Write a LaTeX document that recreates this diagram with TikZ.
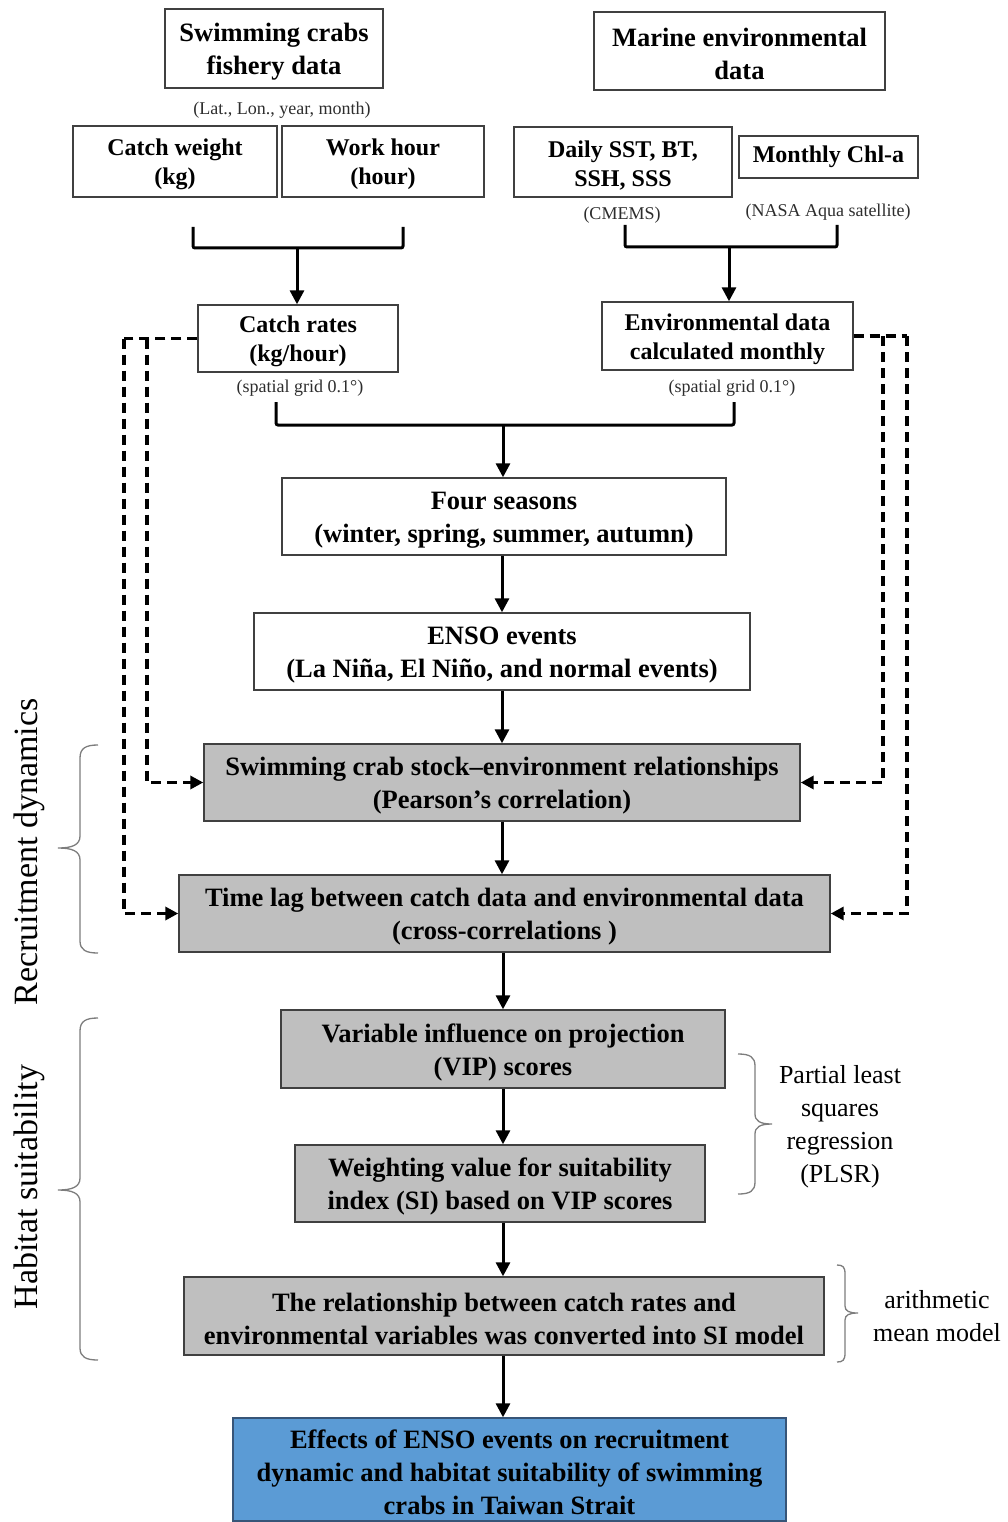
\documentclass[tikz,border=0pt]{standalone}
\usepackage{fontspec}
\setmainfont{Liberation Serif}
\usetikzlibrary{arrows.meta}
\definecolor{boxline}{RGB}{64,64,64}
\definecolor{grayfill}{RGB}{191,191,191}
\definecolor{bluefill}{RGB}{91,155,213}
\definecolor{blueline}{RGB}{55,85,120}
\definecolor{bracegray}{RGB}{125,125,125}
\definecolor{labelgray}{RGB}{45,45,45}
\newcommand{\lowstrut}{\rule{0pt}{0.95em}}
\begin{document}
\begin{tikzpicture}[x=1pt,y=-1pt,
  box/.style={draw=boxline,line width=1.4pt,inner sep=0pt,align=center,
    font=\bfseries\fontsize{26.5}{33}\selectfont},
  subbox/.style={box,font=\bfseries\fontsize{24}{29}\selectfont},
  graybox/.style={box,fill=grayfill},
  bluebox/.style={box,fill=bluefill,draw=blueline},
  small/.style={inner sep=0pt,align=center,text=labelgray,font=\fontsize{18}{22}\selectfont},
  side/.style={inner sep=0pt,align=center,font=\fontsize{26}{33}\selectfont},
  vlabel/.style={inner sep=0pt,rotate=90,font=\fontsize{34}{40}\selectfont},
  arr/.style={line width=3pt,-{Triangle[width=14pt,length=14pt]}},
  bracket/.style={line width=3pt,rounded corners=2pt},
  dsh/.style={line width=3.4pt,dash pattern=on 10pt off 6pt,-{Triangle[width=13pt,length=13pt]}},
  dshline/.style={line width=3.4pt,dash pattern=on 10pt off 6pt},
  brace/.style={draw=bracegray,line width=1.3pt}
]
\useasboundingbox (0,0) rectangle (1007,1522);

% top level
\node[box,minimum width=218pt,minimum height=79pt] (fish) at (274,48.5) {\lowstrut Swimming crabs\\fishery data};
\node[box,minimum width=291pt,minimum height=78pt] (marine) at (739.5,51) {\lowstrut Marine environmental\\data};
\node[small] (latlon) at (282,110) {(Lat., Lon., year, month)};

% second level
\node[subbox,minimum width=204pt,minimum height=71pt] (cw) at (175,161.5) {\lowstrut Catch weight\\(kg)};
\node[subbox,minimum width=202pt,minimum height=71pt] (wh) at (383,161.5) {\lowstrut Work hour\\(hour)};
\node[subbox,minimum width=218pt,minimum height=70pt] (sst) at (623,162) {\lowstrut Daily SST, BT,\\SSH, SSS};
\node[subbox,minimum width=179pt,minimum height=42pt] (chl) at (828.5,157) {Monthly Chl-a};
\node[small] (cmems) at (622,215) {(CMEMS)};
\node[small] (nasa) at (828,212) {(NASA Aqua satellite)};

% third level
\node[subbox,minimum width=200pt,minimum height=67pt] (cr) at (298,338.5) {\lowstrut Catch rates\\(kg/hour)};
\node[subbox,minimum width=251pt,minimum height=68pt] (env) at (727.5,336) {\lowstrut Environmental data\\calculated monthly};
\node[small] (grid1) at (300,388) {(spatial grid 0.1°)};
\node[small] (grid2) at (732,388) {(spatial grid 0.1°)};

% brackets and arrows to third level
\coordinate (a1) at (193,227); \coordinate (a2) at (193,248);
\coordinate (a3) at (403,248); \coordinate (a4) at (403,227);
\coordinate (j1) at (297,248);
\draw[bracket] (a1) -- (a2) -- (a3) -- (a4);
\draw[arr] (j1) -- (j1 |- cr.north);

\coordinate (b1) at (625,225); \coordinate (b2) at (625,247);
\coordinate (b3) at (837,247); \coordinate (b4) at (837,225);
\coordinate (j2) at (729,247);
\draw[bracket] (b1) -- (b2) -- (b3) -- (b4);
\draw[arr] (j2) -- (j2 |- env.north);

% main column
\node[box,minimum width=444pt,minimum height=77pt] (four) at (504,516.5) {\lowstrut Four seasons\\(winter, spring, summer, autumn)};
\node[box,minimum width=496pt,minimum height=77pt] (enso) at (502,651.5) {\lowstrut ENSO events\\(La Niña, El Niño, and normal events)};
\node[graybox,minimum width=596pt,minimum height=77pt] (stock) at (502,782.5) {\lowstrut Swimming crab stock–environment relationships\\(Pearson's correlation)};
\node[graybox,minimum width=651pt,minimum height=77pt] (lag) at (504.5,913.5) {\lowstrut Time lag between catch data and environmental data\\(cross-correlations\ )};
\node[graybox,minimum width=444pt,minimum height=78pt] (vip) at (503,1049) {\lowstrut Variable influence on projection\\(VIP) scores};
\node[graybox,minimum width=410pt,minimum height=77pt] (wt) at (500,1183.5) {\lowstrut Weighting value for suitability\\index (SI) based on VIP scores};
\node[graybox,minimum width=640pt,minimum height=78pt] (rel) at (504,1316) {\lowstrut The relationship between catch rates and\\environmental variables was converted into SI model};
\node[bluebox,minimum width=553pt,minimum height=103pt] (eff) at (509.5,1469.5) {\lowstrut Effects of ENSO events on recruitment\\dynamic and habitat suitability of swimming\\crabs in Taiwan Strait};

% bracket to four seasons
\coordinate (c1) at (276,402); \coordinate (c2) at (276,425);
\coordinate (c3) at (734,425); \coordinate (c4) at (734,402);
\coordinate (j3) at (503,425);
\draw[bracket] (c1) -- (c2) -- (c3) -- (c4);
\draw[arr] (j3) -- (j3 |- four.north);

% main arrows
\draw[arr] (enso.north |- four.south) -- (enso.north);
\draw[arr] (enso.south) -- (enso.south |- stock.north);
\draw[arr] (stock.south) -- (stock.south |- lag.north);
\draw[arr] (vip.north |- lag.south) -- (vip.north);
\draw[arr] (vip.south) -- (vip.south |- wt.north);
\draw[arr] (wt.south -| vip.south) -- (vip.south |- rel.north);
\draw[arr] (vip.south |- rel.south) -- (vip.south |- eff.north);

% dashed connectors, left
\coordinate (dl1) at (124,338.5);
\coordinate (dl2) at (147,338.5);
\draw[dshline] (cr.west) -- (dl1);
\draw[dsh] (dl1) |- (lag.west);
\draw[dsh] (dl2) |- (stock.west);
% dashed connectors, right
\coordinate (dr1) at (907,336);
\coordinate (dr2) at (883,336);
\draw[dshline] (env.east) -- (dr1);
\draw[dsh] (dr1) |- (lag.east);
\draw[dsh] (dr2) |- (stock.east);

% braces
\draw[brace] (98,745) .. controls (86,745) and (80,748) .. (80,758) -- (80,836)
  .. controls (80,845) and (72,848) .. (58,848)
  .. controls (72,848) and (80,851) .. (80,860) -- (80,941)
  .. controls (80,950) and (86,953) .. (98,953);
\draw[brace] (98,1018) .. controls (86,1018) and (80,1021) .. (80,1031) -- (80,1178)
  .. controls (80,1187) and (72,1190) .. (58,1190)
  .. controls (72,1190) and (80,1193) .. (80,1202) -- (80,1348)
  .. controls (80,1357) and (86,1360) .. (98,1360);
\draw[brace] (738,1054) .. controls (750,1054) and (755,1057) .. (755,1066) -- (755,1114)
  .. controls (755,1121) and (760,1124) .. (772,1124)
  .. controls (760,1124) and (755,1127) .. (755,1134) -- (755,1182)
  .. controls (755,1191) and (750,1194) .. (738,1194);
\draw[brace] (837,1265) .. controls (843,1265) and (845,1267) .. (845,1274) -- (845,1306)
  .. controls (845,1311) and (849,1313) .. (858,1313)
  .. controls (849,1313) and (845,1315) .. (845,1320) -- (845,1353)
  .. controls (845,1360) and (843,1362) .. (837,1362);

% side labels
\node[vlabel] (recr) at (29,852) {Recruitment dynamics};
\node[vlabel] (habi) at (29,1187) {Habitat suitability};
\node[side] (plsr) at (840,1127) {Partial least\\squares\\regression\\(PLSR)};
\node[side] (arith) at (937,1316) {arithmetic\\mean model};
\end{tikzpicture}
\end{document}
